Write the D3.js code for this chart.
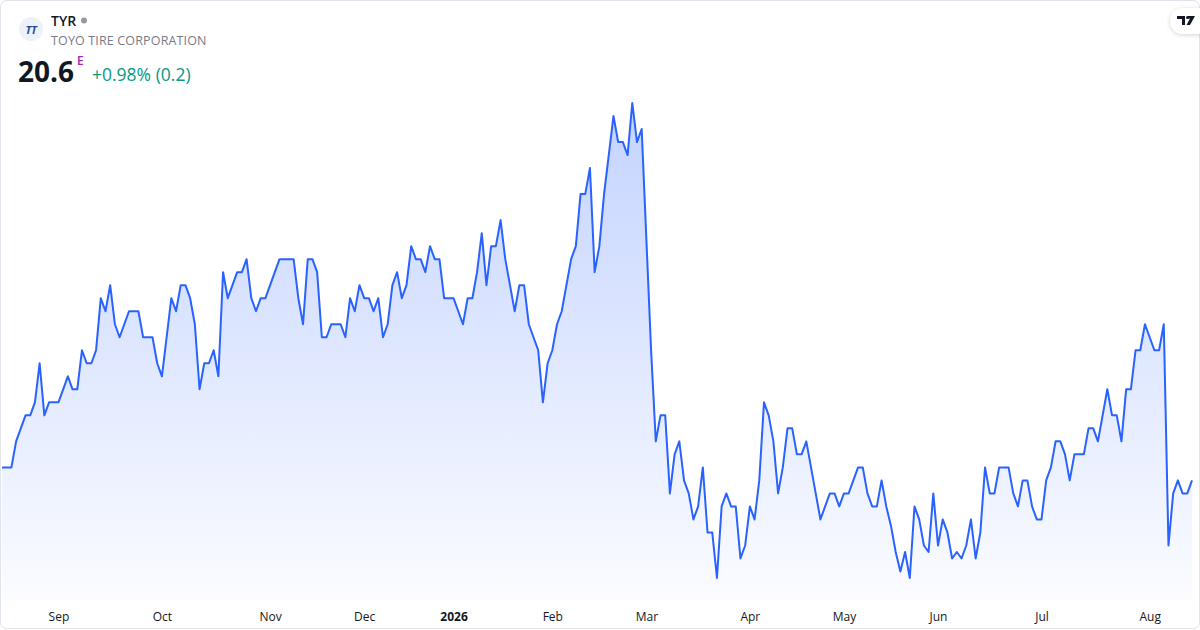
<!DOCTYPE html>
<head>
<meta charset="utf-8" />
<script src="https://d3js.org/d3.v7.min.js"></script>
<style>
    html, body {
        margin: 0;
        padding: 0;
        background: #fff;
        font-family: "Open Sans", "Noto Sans", sans-serif;
    }
</style>
</head>

<body>
    <div id="chart"></div>

    <script>
        // daily closes (one per trading day)
        var closes = [
            20.8, 20.8, 20.8, 21.2, 21.4, 21.6, 21.6, 21.8, 22.4, 21.6,
            21.8, 21.8, 21.8, 22.0, 22.2, 22.0, 22.0, 22.6, 22.4, 22.4,
            22.6, 23.4, 23.2, 23.6, 23.0, 22.8, 23.0, 23.2, 23.2, 23.2,
            22.8, 22.8, 22.8, 22.4, 22.2, 22.8, 23.4, 23.2, 23.6, 23.6,
            23.4, 23.0, 22.0, 22.4, 22.4, 22.6, 22.2, 23.8, 23.4, 23.6,
            23.8, 23.8, 24.0, 23.4, 23.2, 23.4, 23.4, 23.6, 23.8, 24.0,
            24.0, 24.0, 24.0, 23.4, 23.0, 24.0, 24.0, 23.8, 22.8, 22.8,
            23.0, 23.0, 23.0, 22.8, 23.4, 23.2, 23.6, 23.4, 23.4, 23.2,
            23.4, 22.8, 23.0, 23.6, 23.8, 23.4, 23.6, 24.2, 24.0, 24.0,
            23.8, 24.2, 24.0, 24.0, 23.4, 23.4, 23.4, 23.2, 23.0, 23.4,
            23.4, 23.8, 24.4, 23.6, 24.2, 24.2, 24.6, 24.0, 23.6, 23.2,
            23.6, 23.6, 23.0, 22.8, 22.6, 21.8, 22.4, 22.6, 23.0, 23.2,
            23.6, 24.0, 24.2, 25.0, 25.0, 25.4, 23.8, 24.2, 25.0, 25.6,
            26.2, 25.8, 25.8, 25.6, 26.4, 25.8, 26.0, 24.3, 22.6, 21.2,
            21.6, 21.6, 20.4, 21.0, 21.2, 20.6, 20.4, 20.0, 20.2, 20.8,
            19.8, 19.8, 19.1, 20.2, 20.4, 20.2, 20.2, 19.4, 19.6, 20.2,
            20.0, 20.6, 21.8, 21.6, 21.2, 20.4, 20.8, 21.4, 21.4, 21.0,
            21.0, 21.2, 20.8, 20.4, 20.0, 20.2, 20.4, 20.4, 20.2, 20.4,
            20.4, 20.6, 20.8, 20.8, 20.4, 20.2, 20.2, 20.6, 20.2, 19.9,
            19.5, 19.2, 19.5, 19.1, 20.2, 20.0, 19.6, 19.5, 20.4, 19.6,
            20.0, 19.8, 19.4, 19.5, 19.4, 19.6, 20.0, 19.4, 19.8, 20.8,
            20.4, 20.4, 20.8, 20.8, 20.8, 20.4, 20.2, 20.6, 20.6, 20.2,
            20.0, 20.0, 20.6, 20.8, 21.2, 21.2, 21.0, 20.6, 21.0, 21.0,
            21.0, 21.4, 21.4, 21.2, 21.6, 22.0, 21.6, 21.6, 21.2, 22.0,
            22.0, 22.6, 22.6, 23.0, 22.8, 22.6, 22.6, 23.0, 19.6, 20.4,
            20.6, 20.4, 20.4, 20.6
        ];

        // month labels and the bar index they sit on
        var monthLabels = ["Sep", "Oct", "Nov", "Dec", "2026", "Feb", "Mar", "Apr", "May", "Jun", "Jul", "Aug"];
        var monthIndex  = [12, 34, 57, 77, 96, 117, 137, 159, 179, 199, 221, 244];

        var ticker = "TYR";
        var company = "TOYO TIRE CORPORATION";
        var lastPrice = "20.6";
        var change = "+0.98% (0.2)";

        const width = 1200,
              height = 630;

        var svg = d3.select("#chart")
                    .append("svg")
                    .attr("width", width)
                    .attr("height", height)
                    .style("display", "block");

        var defs = svg.append("defs");
        var grad = defs.append("linearGradient")
            .attr("id", "fillGrad")
            .attr("gradientUnits", "userSpaceOnUse")
            .attr("x1", 0).attr("y1", 100).attr("x2", 0).attr("y2", 600);
        grad.append("stop").attr("offset", "0%").attr("stop-color", "#2962ff").attr("stop-opacity", 0.28);
        grad.append("stop").attr("offset", "100%").attr("stop-color", "#2962ff").attr("stop-opacity", 0.02);

        var shadow = defs.append("filter").attr("id", "shadow")
            .attr("x", "-50%").attr("y", "-50%").attr("width", "200%").attr("height", "200%");
        shadow.append("feDropShadow")
            .attr("dx", 0).attr("dy", 1).attr("stdDeviation", 2)
            .attr("flood-color", "#000").attr("flood-opacity", 0.18);

        // outer frame
        svg.append("rect")
            .attr("x", 0.5).attr("y", 0.5)
            .attr("width", width - 1).attr("height", height - 2)
            .attr("rx", 6)
            .attr("fill", "#fff")
            .attr("stroke", "#e0e3eb");

        var x = d3.scaleLinear()
            .domain([0, closes.length - 1])
            .range([2, 1192]);

        var y = d3.scaleLinear()
            .domain(d3.extent(closes))
            .range([578, 103]);

        var area = d3.area()
            .x(function(d, i) { return x(i); })
            .y0(600)
            .y1(function(d) { return y(d); });

        var line = d3.line()
            .x(function(d, i) { return x(i); })
            .y(function(d) { return y(d); });

        svg.append("path")
            .datum(closes)
            .attr("d", area)
            .attr("fill", "url(#fillGrad)");

        svg.append("path")
            .datum(closes)
            .attr("d", line)
            .attr("fill", "none")
            .attr("stroke", "#2962ff")
            .attr("stroke-width", 2)
            .attr("stroke-linejoin", "round");

        // time axis, labels only
        var axis = d3.axisBottom(x)
            .tickValues(monthIndex)
            .tickSize(0)
            .tickPadding(0)
            .tickFormat(function(d, i) { return monthLabels[i]; });

        var gx = svg.append("g")
            .attr("transform", "translate(0,612)")
            .call(axis);
        gx.select(".domain").remove();
        gx.selectAll("text")
            .attr("font-family", "'Open Sans', sans-serif")
            .attr("font-size", 12)
            .attr("fill", "#131722")
            .attr("font-weight", function(d, i) { return monthLabels[i] === "2026" ? "bold" : "normal"; });

        // header
        var head = svg.append("g");
        head.append("circle")
            .attr("cx", 31).attr("cy", 29).attr("r", 12)
            .attr("fill", "#eef1f8");
        head.append("text")
            .attr("x", 31).attr("y", 33.5)
            .attr("text-anchor", "middle")
            .attr("font-size", 11)
            .attr("font-weight", "bold")
            .attr("font-style", "italic")
            .attr("fill", "#1a4da8")
            .attr("letter-spacing", -0.3)
            .text("TT");

        head.append("text")
            .attr("x", 51).attr("y", 26)
            .attr("font-size", 14)
            .attr("font-weight", 600)
            .attr("fill", "#131722")
            .text(ticker);
        head.append("circle")
            .attr("cx", 84).attr("cy", 20.5).attr("r", 3)
            .attr("fill", "#9598a1");
        head.append("text")
            .attr("x", 51).attr("y", 45)
            .attr("font-size", 12.5)
            .attr("letter-spacing", 0.15)
            .attr("fill", "#787b86")
            .text(company);

        head.append("text")
            .attr("x", 18).attr("y", 82)
            .attr("font-size", 28)
            .attr("font-weight", "bold")
            .attr("fill", "#131722")
            .text(lastPrice);
        head.append("text")
            .attr("x", 77).attr("y", 65)
            .attr("font-size", 12)
            .attr("font-weight", 600)
            .attr("fill", "#9c27b0")
            .text("E");
        head.append("text")
            .attr("x", 92).attr("y", 81)
            .attr("font-size", 17.5)
            .attr("fill", "#089981")
            .text(change);

        // TV badge top right
        var badge = svg.append("g");
        badge.append("rect")
            .attr("x", 1170).attr("y", 8)
            .attr("width", 40).attr("height", 26)
            .attr("rx", 13)
            .attr("fill", "#fff")
            .attr("filter", "url(#shadow)");
        badge.append("path")
            .attr("d", "M1177,16 h8 v9 h-3 v-6 h-5 z M1188,16 h7 l-5,9 h-3.5 l3.5,-6.5 h-2 z")
            .attr("fill", "#131722");
        badge.append("circle")
            .attr("cx", 1187.5).attr("cy", 17.5).attr("r", 1.5)
            .attr("fill", "#131722");
    </script>
</body>
